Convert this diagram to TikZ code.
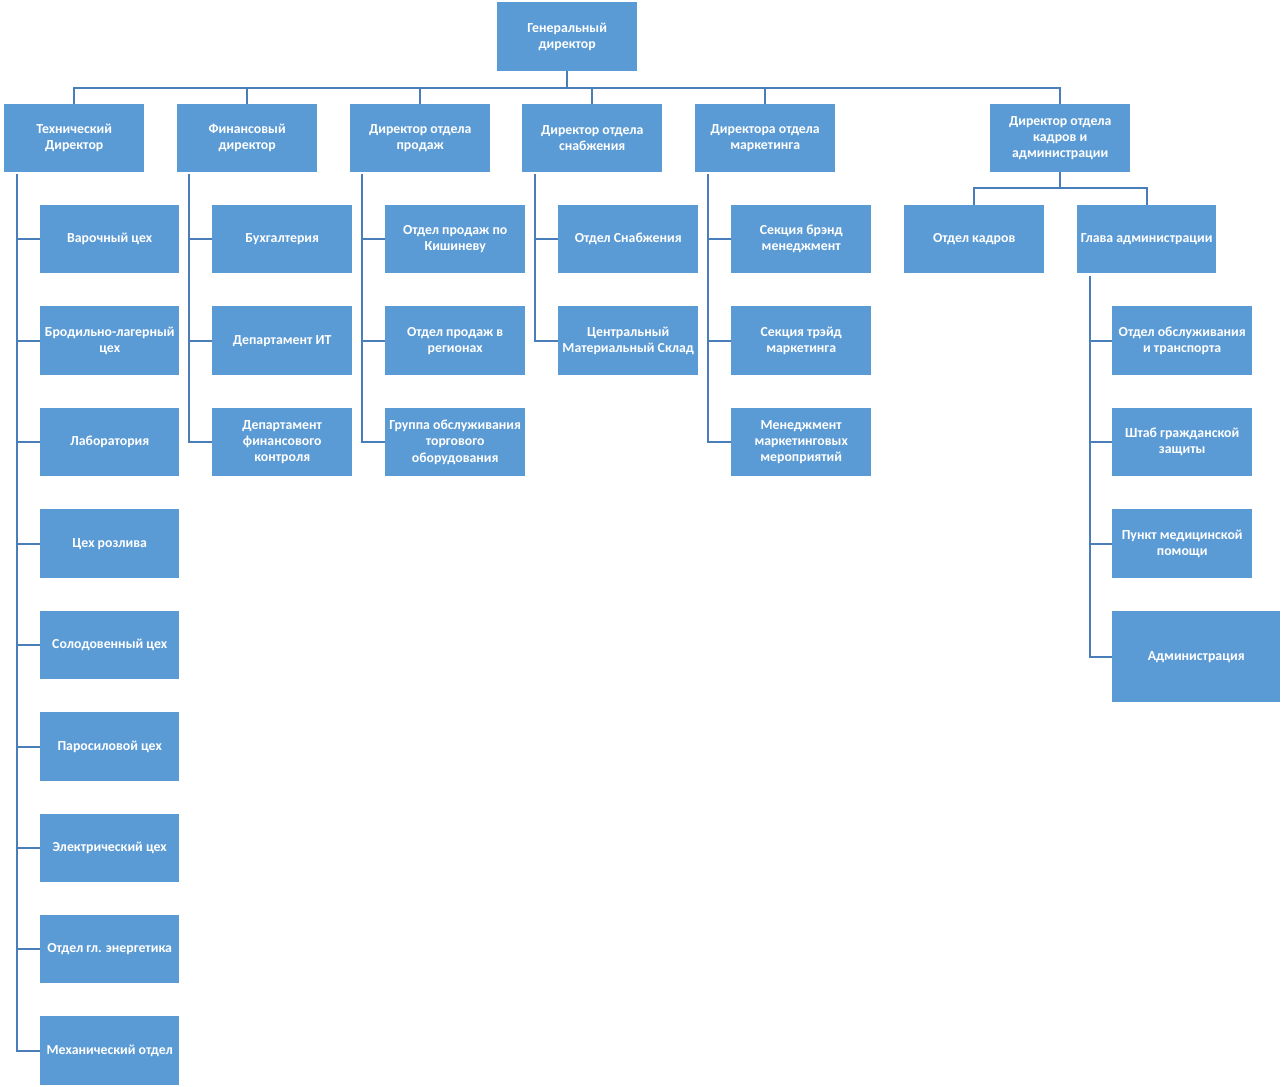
\documentclass[tikz,border=0pt]{standalone}
\usepackage{fontspec}
\setmainfont{Carlito}
\definecolor{boxfill}{HTML}{5B9BD5}
\definecolor{linec}{HTML}{4A7EBB}
\tikzset{
  orgbox/.style={draw=none, fill=boxfill, text=white, font=\bfseries\fontsize{13.8}{16.2}\selectfont,
    align=center, inner sep=0pt, anchor=north west},
  conn/.style={draw=linec, line width=2pt}
}
\newcommand{\bx}[6]{\node[orgbox, minimum width=#4pt, minimum height=#5pt] (#1) at (#2,#3) {#6};}
\begin{document}
\begin{tikzpicture}[x=1pt,y=-1pt]
\useasboundingbox (0,0) rectangle (1286,1087);
% top
\bx{gd}{497}{2}{140}{69}{Генеральный\\директор}
% level 1
\bx{tech}{4}{104}{140}{68}{Технический\\Директор}
\bx{fin}{177}{104}{140}{68}{Финансовый\\директор}
\bx{sal}{350}{104}{140}{68}{Директор отдела\\продаж}
\bx{sup}{522}{104}{140}{68}{Директор отдела\\снабжения}
\bx{mar}{695}{104}{140}{68}{Директора отдела\\маркетинга}
\bx{hr}{990}{104}{140}{68}{Директор отдела\\кадров и\\администрации}
% tech children
\bx{t1}{40}{205}{139}{68}{Варочный цех}
\bx{t2}{40}{306}{139}{69}{Бродильно-лагерный\\цех}
\bx{t3}{40}{408}{139}{68}{Лаборатория}
\bx{t4}{40}{509}{139}{69}{Цех розлива}
\bx{t5}{40}{611}{139}{68}{Солодовенный цех}
\bx{t6}{40}{712}{139}{69}{Паросиловой цех}
\bx{t7}{40}{814}{139}{68}{Электрический цех}
\bx{t8}{40}{915}{139}{68}{Отдел гл. энергетика}
\bx{t9}{40}{1016}{139}{69}{Механический отдел}
% fin children
\bx{f1}{212}{205}{140}{68}{Бухгалтерия}
\bx{f2}{212}{306}{140}{69}{Департамент ИТ}
\bx{f3}{212}{408}{140}{68}{Департамент\\финансового\\контроля}
% sales children
\bx{s1}{385}{205}{140}{68}{Отдел продаж по\\Кишиневу}
\bx{s2}{385}{306}{140}{69}{Отдел продаж в\\регионах}
\bx{s3}{385}{408}{140}{68}{Группа обслуживания\\торгового\\оборудования}
% supply children
\bx{u1}{558}{205}{140}{68}{Отдел Снабжения}
\bx{u2}{558}{306}{140}{69}{Центральный\\Материальный Склад}
% marketing children
\bx{m1}{731}{205}{140}{68}{Секция брэнд\\менеджмент}
\bx{m2}{731}{306}{140}{69}{Секция трэйд\\маркетинга}
\bx{m3}{731}{408}{140}{68}{Менеджмент\\маркетинговых\\мероприятий}
% hr children
\bx{h1}{904}{205}{140}{68}{Отдел кадров}
\bx{h2}{1077}{205}{139}{68}{Глава администрации}
% admin children
\bx{a1}{1112}{306}{140}{69}{Отдел обслуживания\\и транспорта}
\bx{a2}{1112}{408}{140}{68}{Штаб гражданской\\защиты}
\bx{a3}{1112}{509}{140}{69}{Пункт медицинской\\помощи}
\bx{a4}{1112}{611}{168}{91}{Администрация}
% top bus
\foreach \c in {tech,fin,sal,sup,mar,hr}
  \draw[conn] (gd.south) -- ++(0,17) -| (\c.north);
% hr bus
\foreach \c in {h1,h2}
  \draw[conn] (hr.south) -- ++(0,16) -| (\c.north);
% side trees
\foreach \c in {t1,t2,t3,t4,t5,t6,t7,t8,t9}
  \draw[conn] (tech.south west) ++(13,2) |- (\c.west);
\foreach \c in {f1,f2,f3}
  \draw[conn] (fin.south west) ++(12,2) |- (\c.west);
\foreach \c in {s1,s2,s3}
  \draw[conn] (sal.south west) ++(12,2) |- (\c.west);
\foreach \c in {u1,u2}
  \draw[conn] (sup.south west) ++(13,2) |- (\c.west);
\foreach \c in {m1,m2,m3}
  \draw[conn] (mar.south west) ++(13,2) |- (\c.west);
\foreach \c in {a1,a2,a3,a4}
  \draw[conn] (h2.south west) ++(13,3) |- (\c.west);
\end{tikzpicture}
\end{document}
